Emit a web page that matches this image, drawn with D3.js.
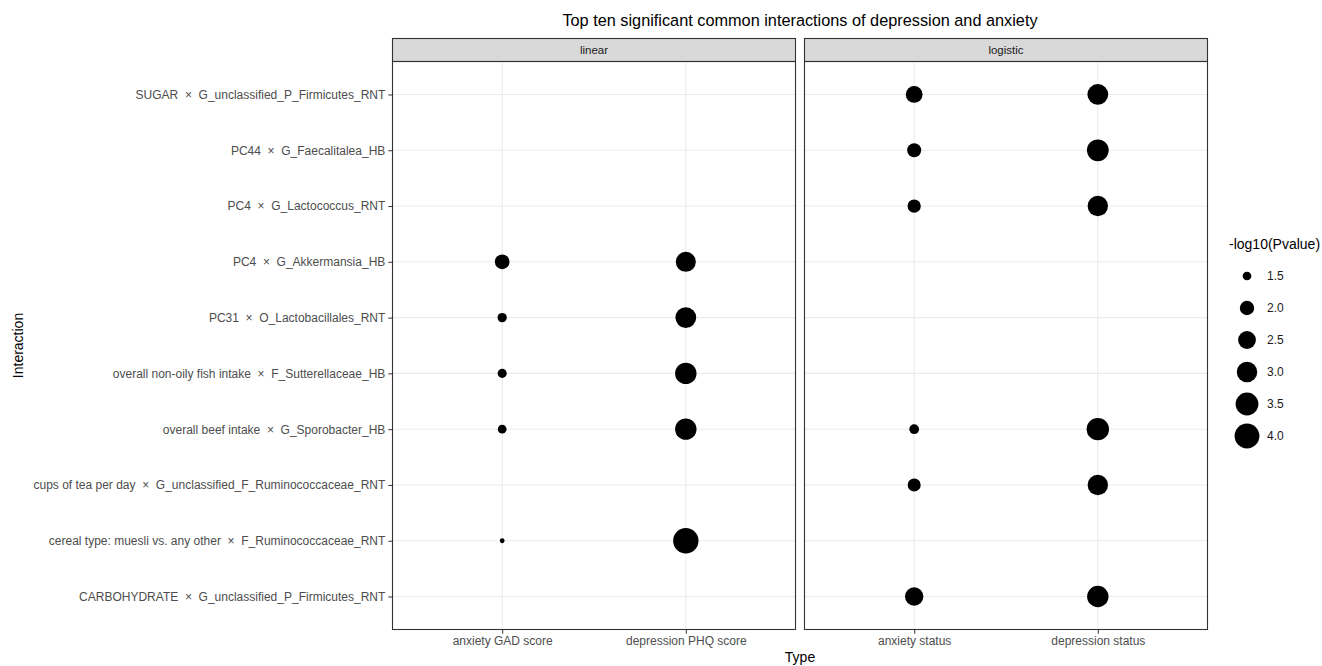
<!DOCTYPE html>
<html>
<head>
<meta charset="utf-8">
<script src="https://cdn.jsdelivr.net/npm/d3@7"></script>
<style>
  body { margin: 0; background: #fff; }
  svg { font-family: "Liberation Sans", Arial, sans-serif; }
  .pre { white-space: pre; }
</style>
</head>
<body>
<svg id="chart" width="1322" height="666"></svg>
<script>
// Interactions, top to bottom
const interactions = [
    "SUGAR  \u00d7  G_unclassified_P_Firmicutes_RNT",
    "PC44  \u00d7  G_Faecalitalea_HB",
    "PC4  \u00d7  G_Lactococcus_RNT",
    "PC4  \u00d7  G_Akkermansia_HB",
    "PC31  \u00d7  O_Lactobacillales_RNT",
    "overall non-oily fish intake  \u00d7  F_Sutterellaceae_HB",
    "overall beef intake  \u00d7  G_Sporobacter_HB",
    "cups of tea per day  \u00d7  G_unclassified_F_Ruminococcaceae_RNT",
    "cereal type: muesli vs. any other  \u00d7  F_Ruminococcaceae_RNT",
    "CARBOHYDRATE  \u00d7  G_unclassified_P_Firmicutes_RNT",
];

const facets = ["linear", "logistic"];
const linearTypes = ["anxiety GAD score", "depression PHQ score"];
const logisticTypes = ["anxiety status", "depression status"];

// -log10(Pvalue), null = not present
const gadScore = [null, null, null, 2.04, 1.53, 1.52, 1.50, null, 1.40, null];
const phqScore = [null, null, null, 2.91, 3.06, 3.19, 3.19, null, 4.16, null];
const anxietyStatus = [2.33, 1.95, 1.87, null, null, null, 1.56, 1.84, null, 2.60];
const depressionStatus = [3.06, 3.27, 2.98, null, null, null, 3.41, 2.98, null, 3.19];

const legendBreaks = [1.5, 2.0, 2.5, 3.0, 3.5, 4.0];

// build long rows per facet
function rows(types, series) {
    const out = [];
    types.forEach((t, i) => {
        series[i].forEach((v, j) => {
            if (v != null) out.push({ type: t, interaction: interactions[j], value: v });
        });
    });
    return out;
}
const facetData = [
    { name: facets[0], types: linearTypes, rows: rows(linearTypes, [gadScore, phqScore]) },
    { name: facets[1], types: logisticTypes, rows: rows(logisticTypes, [anxietyStatus, depressionStatus]) },
];

// layout
const panelLeft = [392, 804];
const panelWidth = 404;
const stripTop = 38;
const panelTop = 61;
const panelBottom = 630;

const svg = d3.select("#chart");

const allValues = [...gadScore, ...phqScore, ...anxietyStatus, ...depressionStatus].filter((v) => v != null);
const sizeT = d3.scaleLinear().domain(d3.extent(allValues)).range([0, 1]);
const sizeR = d3.scaleSqrt().domain([0, 1]).range([2.4, 12.7]);
const radius = (v) => sizeR(sizeT(v));

const y = d3.scalePoint().domain(interactions).range([panelTop, panelBottom]).padding(0.6);

// title
svg.append("text")
    .attr("x", (panelLeft[0] + panelLeft[1] + panelWidth) / 2)
    .attr("y", 26)
    .attr("text-anchor", "middle")
    .attr("font-size", 16.3)
    .attr("fill", "#000")
    .text("Top ten significant common interactions of depression and anxiety");

facetData.forEach((f, fi) => {
    const x0 = panelLeft[fi];
    const x = d3.scalePoint().domain(f.types).range([x0, x0 + panelWidth]).padding(0.6);
    const g = svg.append("g");

    // strip
    g.append("rect")
        .attr("x", x0 + 0.5).attr("y", stripTop + 0.5)
        .attr("width", panelWidth - 1).attr("height", panelTop - stripTop)
        .attr("fill", "#d9d9d9").attr("stroke", "#333").attr("stroke-width", 1.1);
    g.append("text")
        .attr("x", x0 + panelWidth / 2).attr("y", (stripTop + panelTop) / 2 + 4)
        .attr("text-anchor", "middle").attr("font-size", 11.5).attr("fill", "#1a1a1a")
        .text(f.name);

    // grid
    g.append("g").selectAll("line").data(interactions).join("line")
        .attr("x1", x0).attr("x2", x0 + panelWidth)
        .attr("y1", (d) => y(d)).attr("y2", (d) => y(d))
        .attr("stroke", "#ebebeb").attr("stroke-width", 1.1);
    g.append("g").selectAll("line").data(f.types).join("line")
        .attr("x1", (d) => x(d)).attr("x2", (d) => x(d))
        .attr("y1", panelTop).attr("y2", panelBottom)
        .attr("stroke", "#ebebeb").attr("stroke-width", 1.1);

    // points
    g.append("g").selectAll("circle").data(f.rows).join("circle")
        .attr("cx", (d) => x(d.type))
        .attr("cy", (d) => y(d.interaction))
        .attr("r", (d) => radius(d.value))
        .attr("fill", "#000");

    // panel border
    g.append("rect")
        .attr("x", x0 + 0.5).attr("y", panelTop + 0.5)
        .attr("width", panelWidth - 1).attr("height", panelBottom - panelTop - 1)
        .attr("fill", "none").attr("stroke", "#333").attr("stroke-width", 1.1);

    // x axis
    const xAxis = g.append("g")
        .attr("transform", `translate(0,${panelBottom})`)
        .call(d3.axisBottom(x).tickSize(3.7).tickPadding(3));
    xAxis.select(".domain").remove();
    xAxis.selectAll(".tick line").attr("stroke", "#333");
    xAxis.selectAll(".tick text")
        .attr("font-size", 12).attr("fill", "#4d4d4d")
        .attr("font-family", "Liberation Sans, Arial, sans-serif");

    // y axis only on the first panel
    if (fi === 0) {
        const yAxis = g.append("g")
            .attr("transform", `translate(${x0},0)`)
            .call(d3.axisLeft(y).tickSize(3.7).tickPadding(3));
        yAxis.select(".domain").remove();
        yAxis.selectAll(".tick line").attr("stroke", "#333");
        yAxis.selectAll(".tick text")
            .classed("pre", true)
            .attr("font-size", 12).attr("fill", "#4d4d4d")
            .attr("font-family", "Liberation Sans, Arial, sans-serif");
    }
});

// axis titles
svg.append("text")
    .attr("x", (panelLeft[0] + panelLeft[1] + panelWidth) / 2)
    .attr("y", 662)
    .attr("text-anchor", "middle")
    .attr("font-size", 14)
    .text("Type");
svg.append("text")
    .attr("transform", `translate(23,${(panelTop + panelBottom) / 2}) rotate(-90)`)
    .attr("text-anchor", "middle")
    .attr("font-size", 14)
    .text("Interaction");

// size legend
const legend = svg.append("g").attr("transform", "translate(1229,0)");
legend.append("text")
    .attr("x", 0).attr("y", 249)
    .attr("font-size", 14)
    .text("-log10(Pvalue)");
const keyY = d3.scaleLinear().domain([0, legendBreaks.length - 1]).range([276, 436]);
const keys = legend.selectAll("g.key").data(legendBreaks).join("g")
    .attr("class", "key")
    .attr("transform", (d, i) => `translate(0,${keyY(i)})`);
keys.append("circle").attr("cx", 18).attr("cy", 0).attr("r", (d) => radius(d)).attr("fill", "#000");
keys.append("text").attr("x", 38).attr("y", 4).attr("font-size", 12).attr("fill", "#1a1a1a")
    .text((d) => d.toFixed(1));
</script>
</body>
</html>
